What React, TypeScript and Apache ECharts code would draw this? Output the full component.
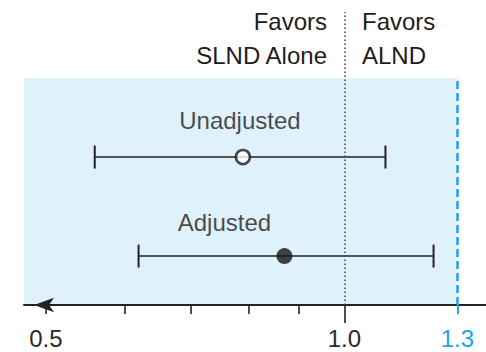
import React, { useEffect, useRef } from "react";
import * as echarts from "echarts";

// Hazard/odds ratios with 95% confidence intervals
const groups = ["Unadjusted", "Adjusted"];
const ratio = [0.79, 0.87];
const lowerCI = [0.56, 0.62];
const upperCI = [1.1, 1.23];

// Axis ticks and labels (ratio scale)
const minorTicks = [0.5, 0.6, 0.7, 0.8, 0.9];
const referenceValue = 1.0;
const marginValue = 1.3;
const labelTicks = [0.5, 1.0];

// Layout constants (vertical placement of rows on a 0..1 band)
const rowY = [0.505, 0.167];
const shadeTop = 0.775;
const labelOffsets: [number, number][] = [
  [-3, -37],
  [-60, -34],
];

const FONT = "'Liberation Sans', Arial, Helvetica, sans-serif";
const INK = "#1f1b1c";
const BLUE = "#1ea4df";

const ln = Math.log;
const xMin = -0.7441;
const xMax = 0.3288;

export default function App() {
  const ref = useRef<HTMLDivElement>(null);

  useEffect(() => {
    if (!ref.current) return;
    const chart = echarts.init(ref.current, undefined, { renderer: "svg" });

    const fmt = (v: number) => Math.exp(v).toFixed(1);

    const baseAxis = {
      type: "value" as const,
      position: "bottom" as const,
      offset: 0,
      min: xMin,
      max: xMax,
      splitLine: { show: false },
      gridIndex: 0,
    };

    const option: any = {
      animation: false,
      grid: { left: 24, right: 0, top: 12, bottom: 47, outerBoundsMode: "none", containLabel: false },
      xAxis: [
        {
          ...baseAxis,
          axisLine: {
            show: true,
            symbol: ["arrow", "none"],
            symbolSize: [11, 20],
            symbolOffset: [10, 0],
            lineStyle: { color: "#222", width: 2 },
          },
          axisTick: {
            show: true,
            customValues: minorTicks.map(ln),
            length: 9,
            lineStyle: { color: "#222", width: 1.6 },
          },
          axisLabel: {
            show: true,
            customValues: labelTicks.map(ln),
            formatter: fmt,
            margin: 21,
            fontFamily: FONT,
            fontSize: 24,
            color: "#2a2a2a",
          },
        },
        {
          ...baseAxis,
          axisLine: { show: false },
          axisTick: {
            show: true,
            customValues: [ln(referenceValue)],
            length: 18,
            lineStyle: { color: "#222", width: 1.6 },
          },
          axisLabel: { show: false },
        },
        {
          ...baseAxis,
          axisLine: { show: false },
          axisTick: {
            show: true,
            customValues: [ln(marginValue)],
            length: 9,
            lineStyle: { color: BLUE, width: 2 },
          },
          axisLabel: {
            show: true,
            customValues: [ln(marginValue)],
            formatter: fmt,
            margin: 21,
            fontFamily: FONT,
            fontSize: 24,
            color: BLUE,
          },
        },
      ],
      yAxis: { type: "value", min: 0, max: 1, show: false },
      graphic: [
        {
          type: "text",
          x: 327,
          y: 4,
          style: {
            text: "Favors\nSLND Alone",
            align: "right",
            verticalAlign: "top",
            font: `24px ${FONT}`,
            lineHeight: 34,
            fill: INK,
          },
        },
        {
          type: "text",
          x: 362,
          y: 4,
          style: {
            text: "Favors\nALND",
            align: "left",
            verticalAlign: "top",
            font: `24px ${FONT}`,
            lineHeight: 34,
            fill: INK,
          },
        },
      ],
      series: [
        {
          type: "custom",
          name: "region",
          z: 0,
          data: [[xMin, 0, ln(marginValue), shadeTop]],
          encode: { x: [0, 2], y: [1, 3] },
          renderItem: (params: any, api: any) => {
            const p0 = api.coord([api.value(0), api.value(3)]);
            const p1 = api.coord([api.value(2), api.value(1)]);
            return {
              type: "rect",
              shape: { x: p0[0], y: p0[1], width: p1[0] - p0[0], height: p1[1] - p0[1] },
              style: { fill: "#dff1fb" },
            };
          },
          markLine: {
            silent: true,
            symbol: "none",
            label: { show: false },
            data: [
              [
                { coord: [ln(referenceValue), 0], lineStyle: { color: "#444", width: 1.5, type: [1.5, 2.5] } },
                { coord: [ln(referenceValue), 1] },
              ],
              [
                { coord: [ln(marginValue), 0], lineStyle: { color: BLUE, width: 2.5, type: [8, 4] } },
                { coord: [ln(marginValue), shadeTop] },
              ],
            ],
          },
        },
        {
          type: "custom",
          name: "ci",
          z: 3,
          data: groups.map((g, i) => [ln(lowerCI[i]), ln(upperCI[i]), rowY[i]]),
          encode: { x: [0, 1], y: 2 },
          renderItem: (params: any, api: any) => {
            const y = api.value(2);
            const a = api.coord([api.value(0), y]);
            const b = api.coord([api.value(1), y]);
            const h = 11.5;
            const st = { stroke: "#222", lineWidth: 1.6 };
            return {
              type: "group",
              children: [
                { type: "line", shape: { x1: a[0], y1: a[1], x2: b[0], y2: b[1] }, style: st },
                { type: "line", shape: { x1: a[0], y1: a[1] - h, x2: a[0], y2: a[1] + h }, style: { ...st, lineWidth: 2 } },
                { type: "line", shape: { x1: b[0], y1: b[1] - h, x2: b[0], y2: b[1] + h }, style: { ...st, lineWidth: 2 } },
              ],
            };
          },
        },
        {
          type: "scatter",
          name: "estimate",
          z: 5,
          data: groups.map((g, i) => ({
            name: g,
            value: [ln(ratio[i]), rowY[i]],
            symbolSize: i === 0 ? 14 : 16,
            itemStyle:
              i === 0
                ? { color: "#ffffff", borderColor: "#1a1a1a", borderWidth: 2.6 }
                : { color: "#151515", borderWidth: 0 },
            label: {
              show: true,
              position: "inside",
              offset: labelOffsets[i],
              formatter: g,
              fontFamily: FONT,
              fontSize: 24,
              color: INK,
            },
          })),
        },
      ],
    };

    chart.setOption(option);
    return () => chart.dispose();
  }, []);

  return (
    <div
      ref={ref}
      style={{ position: "absolute", left: 0, top: 0, width: 486, height: 352 }}
    />
  );
}
